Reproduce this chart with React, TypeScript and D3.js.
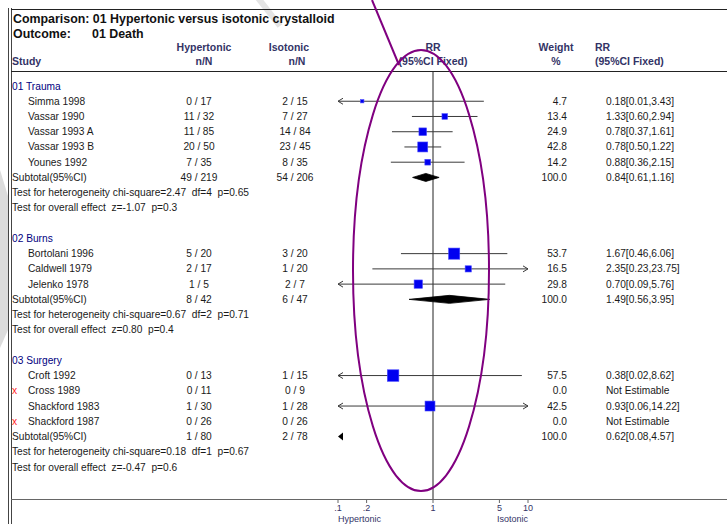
import React from 'react';
import * as d3 from 'd3';

const W = 727;
const H = 524;

// groups and studies
const groupNames = ['01 Trauma', '02 Burns', '03 Surgery'];
const studyNames = [
  'Simma 1998', 'Vassar 1990', 'Vassar 1993 A', 'Vassar 1993 B', 'Younes 1992',
  'Bortolani 1996', 'Caldwell 1979', 'Jelenko 1978',
  'Croft 1992', 'Cross 1989', 'Shackford 1983', 'Shackford 1987',
];
const studyGroup = [0, 0, 0, 0, 0, 1, 1, 1, 2, 2, 2, 2];
const hyperNN = ['0 / 17', '11 / 32', '11 / 85', '20 / 50', '7 / 35', '5 / 20', '2 / 17', '1 / 5', '0 / 13', '0 / 11', '1 / 30', '0 / 26'];
const isoNN = ['2 / 15', '7 / 27', '14 / 84', '23 / 45', '8 / 35', '3 / 20', '1 / 20', '2 / 7', '1 / 15', '0 / 9', '1 / 28', '0 / 26'];
const weights = [4.7, 13.4, 24.9, 42.8, 14.2, 53.7, 16.5, 29.8, 57.5, 0.0, 42.5, 0.0];
const rr = [0.18, 1.33, 0.78, 0.78, 0.88, 1.67, 2.35, 0.70, 0.38, null, 0.93, null];
const rrLo = [0.01, 0.60, 0.37, 0.50, 0.36, 0.46, 0.23, 0.09, 0.02, null, 0.06, null];
const rrHi = [3.43, 2.94, 1.61, 1.22, 2.15, 6.06, 23.75, 5.76, 8.62, null, 14.22, null];

// subtotals
const subHyper = ['49 / 219', '8 / 42', '1 / 80'];
const subIso = ['54 / 206', '6 / 47', '2 / 78'];
const subRR = [0.84, 1.49, 0.62];
const subLo = [0.61, 0.56, 0.08];
const subHi = [1.16, 3.95, 4.57];
const hetText = [
  'Test for heterogeneity chi-square=2.47  df=4  p=0.65',
  'Test for heterogeneity chi-square=0.67  df=2  p=0.71',
  'Test for heterogeneity chi-square=0.18  df=1  p=0.67',
];
const overallText = [
  'Test for overall effect  z=-1.07  p=0.3',
  'Test for overall effect  z=0.80  p=0.4',
  'Test for overall effect  z=-0.47  p=0.6',
];

// axis
const tickValues = [0.1, 0.2, 1, 5, 10];
const tickLabels = ['.1', '.2', '1', '5', '10'];

const FONT = '"Liberation Sans", Arial, sans-serif';
const NAVY = '#333366';
const TXT = '#1a1a1a';

// keep double spaces visible in svg text
const keepSpaces = (s: string) => s.replace(/ {2}/g, ' \u00a0');

const App = () => {
  const x = d3.scaleLog().domain([0.1, 10]).range([338, 528]);
  const y = d3.scaleLinear().domain([0, 25]).range([86, 467]);
  const box = d3.scaleSqrt().domain([0, 60]).range([0, 11.8]);
  const [xmin, xmax] = x.domain();

  const rows: any[] = [];
  let r = 0;
  groupNames.forEach((g, gi) => {
    rows.push({ type: 'group', label: g, row: r++ });
    studyNames.forEach((s, si) => {
      if (studyGroup[si] === gi) rows.push({ type: 'study', i: si, row: r++ });
    });
    rows.push({ type: 'sub', i: gi, row: r++ });
    rows.push({ type: 'text', label: hetText[gi], row: r++ });
    rows.push({ type: 'text', label: overallText[gi], row: r++ });
    r++;
  });

  const fmt = (v: number) => v.toFixed(2);

  const ciLine = (lo: number, hi: number, cy: number, key: string) => {
    const x1 = x(Math.max(lo, xmin));
    const x2 = x(Math.min(hi, xmax));
    return (
      <g key={key} stroke="#3a3a3a" strokeWidth={1} fill="none">
        <line x1={x1} x2={x2} y1={cy} y2={cy} />
        {lo < xmin && <path d={`M${x1 + 5},${cy - 3}L${x1},${cy}L${x1 + 5},${cy + 3}`} />}
        {hi > xmax && <path d={`M${x2 - 5},${cy - 3}L${x2},${cy}L${x2 - 5},${cy + 3}`} />}
      </g>
    );
  };

  return (
    <svg width={W} height={H} style={{ position: 'absolute', left: 0, top: 0, background: '#fff' }}
      fontFamily={FONT}>
      {/* faint background marks */}
      <path d="M0,170L8,196L8,330L0,348Z" fill="#dcdcdc" />
      <line x1={258} y1={-2} x2={280} y2={26} stroke="#e4e4e4" strokeWidth={6} />

      {/* frame */}
      <line x1={8.5} x2={8.5} y1={8} y2={H} stroke="#444" strokeWidth={1} />
      <line x1={11.5} x2={11.5} y1={8} y2={H} stroke="#444" strokeWidth={1} />
      <line x1={11} x2={W} y1={9.5} y2={9.5} stroke="#222" strokeWidth={1} />
      <line x1={11} x2={W} y1={71.5} y2={71.5} stroke="#222" strokeWidth={1} />

      {/* title */}
      <text x={13} y={23} fontSize={12.4} fontWeight="bold" fill="#111">Comparison: 01 Hypertonic versus isotonic crystalloid</text>
      <text x={13} y={38} fontSize={12.4} fontWeight="bold" fill="#111">Outcome:</text>
      <text x={92} y={38} fontSize={12.4} fontWeight="bold" fill="#111">01 Death</text>

      {/* headers */}
      <g fontSize={10.5} fontWeight="bold" fill={NAVY}>
        <text x={12} y={65}>Study</text>
        <text x={204} y={51} textAnchor="middle">Hypertonic</text>
        <text x={204} y={65} textAnchor="middle">n/N</text>
        <text x={289} y={51} textAnchor="middle">Isotonic</text>
        <text x={297} y={65} textAnchor="middle">n/N</text>
        <text x={433} y={51} textAnchor="middle">RR</text>
        <text x={433} y={65} textAnchor="middle">(95%CI Fixed)</text>
        <text x={556} y={51} textAnchor="middle">Weight</text>
        <text x={556} y={65} textAnchor="middle">%</text>
        <text x={595} y={51}>RR</text>
        <text x={595} y={65}>(95%CI Fixed)</text>
      </g>

      {/* no-effect line */}
      <line x1={x(1)} x2={x(1)} y1={72} y2={499} stroke="#222" strokeWidth={1} />

      {/* rows */}
      <g fontSize={10.2} fill={TXT}>
        {rows.map((d) => {
          const cy = y(d.row);
          const ty = cy + 3.5;
          if (d.type === 'group') {
            return <text key={`g${d.row}`} x={12} y={ty} fill="#000080">{d.label}</text>;
          }
          if (d.type === 'text') {
            return <text key={`t${d.row}`} x={12} y={ty}>{keepSpaces(d.label)}</text>;
          }
          if (d.type === 'study') {
            const i = d.i;
            const est = rr[i] != null;
            const s = box(weights[i]);
            return (
              <g key={`s${i}`}>
                {!est && <text x={12} y={ty} fill="#ff2020">x</text>}
                <text x={28} y={ty}>{studyNames[i]}</text>
                <text x={199} y={ty} textAnchor="middle">{hyperNN[i]}</text>
                <text x={295} y={ty} textAnchor="middle">{isoNN[i]}</text>
                <text x={567} y={ty} textAnchor="end">{weights[i].toFixed(1)}</text>
                <text x={606} y={ty}>
                  {est ? `${fmt(rr[i] as number)}[${fmt(rrLo[i] as number)},${fmt(rrHi[i] as number)}]` : 'Not Estimable'}
                </text>
                {est && ciLine(rrLo[i] as number, rrHi[i] as number, cy, `ci${i}`)}
                {est && (
                  <rect x={x(rr[i] as number) - s / 2} y={cy - s / 2} width={s} height={s}
                    fill="#0000f0" stroke="#4a4aff" strokeWidth={0.6} />
                )}
              </g>
            );
          }
          // subtotal
          const gi = d.i;
          const lo = subLo[gi];
          const hi = subHi[gi];
          const hh = 4;
          let mark;
          if (lo < xmin) {
            const tip = x(xmin);
            mark = <path d={`M${tip},${cy}L${tip + 5},${cy - 4}L${tip + 5},${cy + 4}Z`} fill="#000" />;
          } else {
            mark = (
              <path
                d={`M${x(lo)},${cy}L${x(subRR[gi])},${cy - hh}L${x(hi)},${cy}L${x(subRR[gi])},${cy + hh}Z`}
                fill="#000" stroke="#000" strokeWidth={0.8} />
            );
          }
          return (
            <g key={`sub${gi}`}>
              <text x={12} y={ty}>Subtotal(95%CI)</text>
              <text x={199} y={ty} textAnchor="middle">{subHyper[gi]}</text>
              <text x={295} y={ty} textAnchor="middle">{subIso[gi]}</text>
              <text x={567} y={ty} textAnchor="end">100.0</text>
              <text x={606} y={ty}>{`${fmt(subRR[gi])}[${fmt(lo)},${fmt(hi)}]`}</text>
              {mark}
            </g>
          );
        })}
      </g>

      {/* axis */}
      <line x1={11} x2={W} y1={499.5} y2={499.5} stroke="#666" strokeWidth={1} />
      <g fontSize={9} fill={NAVY}>
        {tickValues.map((t, i) => (
          <g key={`tk${i}`}>
            <line x1={x(t)} x2={x(t)} y1={500} y2={503} stroke="#666" />
            <text x={x(t)} y={511} textAnchor="middle">{tickLabels[i]}</text>
          </g>
        ))}
        <text x={x(xmin)} y={522}>Hypertonic</text>
        <text x={x(xmax)} y={522} textAnchor="end">Isotonic</text>
      </g>

      {/* purple annotation */}
      <line x1={372} y1={0} x2={399} y2={65} stroke="#800080" strokeWidth={2} />
      <ellipse cx={421} cy={270.5} rx={68} ry={220.5} fill="none" stroke="#800080" strokeWidth={2} />
    </svg>
  );
};

export default App;
